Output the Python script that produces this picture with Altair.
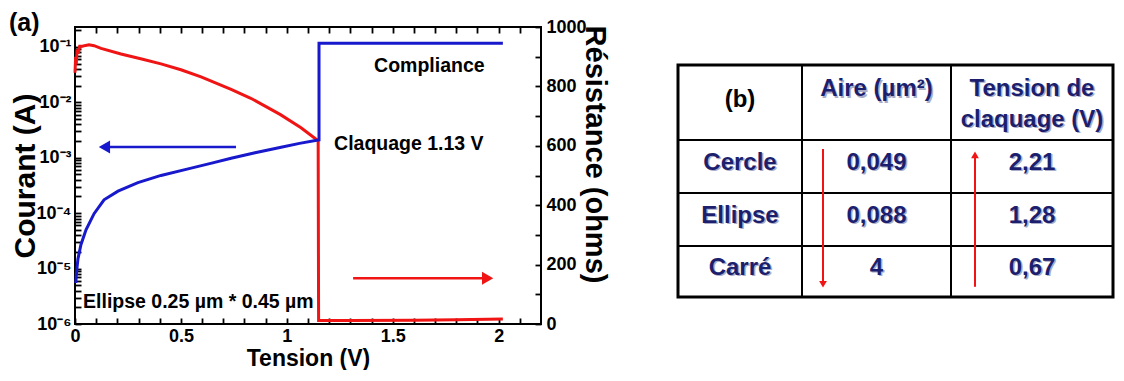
import altair as alt
import pandas as pd

# ---------------- data ----------------
# red curve: resistance (ohms, right axis) vs tension (V)
red_v = [0.000, 0.003, 0.006, 0.010, 0.015, 0.022, 0.035, 0.050, 0.066, 0.090, 0.123,
         0.217, 0.310, 0.406, 0.500, 0.595, 0.737, 0.830, 0.970, 1.067, 1.148,
         1.150, 1.300, 1.600, 1.800, 1.950, 2.020]
red_r = [846, 900, 875, 925, 910, 935, 935, 938, 940, 937, 928,
         909, 893, 876, 856, 832, 790, 760, 705, 661, 617,
         12, 12, 13, 14, 16, 17]

# blue curve: current (A, left log axis) vs tension (V)
blue_v = [0.004, 0.006, 0.009, 0.014, 0.028, 0.052, 0.090, 0.137, 0.203, 0.297,
          0.406, 0.534, 0.650, 0.737, 0.850, 0.973, 1.060, 1.148, 1.152, 1.152, 2.020]
blue_i = [5.5e-6, 7.5e-6, 1.0e-5, 1.5e-5, 2.7e-5, 5.0e-5, 9.8e-5, 1.74e-4, 2.5e-4, 3.55e-4,
          4.8e-4, 6.3e-4, 8.1e-4, 9.8e-4, 1.23e-3, 1.55e-3, 1.82e-3, 2.09e-3, 2.10e-3, 0.117, 0.117]

# arrows
blue_arrow_v = [0.139, 0.76]
blue_arrow_i = 1.57e-3
red_arrow_v = [1.313, 1.948]
red_arrow_r = 154

# annotations
notes_text = ["Compliance", "Claquage 1.13 V", "Ellipse 0.25 µm * 0.45 µm"]
notes_v = [1.412, 1.223, 0.038]
notes_r = [869, 607, 74]
panel_a = "(a)"
panel_a_v = -0.3116
panel_a_r = 1013

# axis ticks
x_major = [0, 0.5, 1, 1.5, 2]
x_minor = [0.1, 0.2, 0.3, 0.4, 0.6, 0.7, 0.8, 0.9, 1.1, 1.2, 1.3, 1.4, 1.6, 1.7, 1.8, 1.9, 2.1]
i_major = [1e-6, 1e-5, 1e-4, 1e-3, 1e-2, 1e-1]
i_minor = [m * d for d in [1e-6, 1e-5, 1e-4, 1e-3, 1e-2, 1e-1] for m in range(2, 10) if m * d <= 0.229]
r_major = [0, 200, 400, 600, 800, 1000]
r_minor = [100, 300, 500, 700, 900]

# table (b)
table_header = ["(b)", "Aire (µm²)", "Tension de\nclaquage (V)"]
table_rows = ["Cercle", "Ellipse", "Carré"]
table_aire = ["0,049", "0,088", "4"]
table_tension = ["2,21", "1,28", "0,67"]

# ---------------- style ----------------
FONT = "Liberation Sans"
RED = "#f01414"
BLUE = "#1818cc"
NAVY = "#1c1f6e"
SHADOW = "#a9adc9"
W, H = 466, 297
TICK = 6  # inward tick length (px)
X_DOM = [0, 2.2]
I_DOM = [1e-6, 0.229]
R_DOM = [0, 1000]

XS = alt.Scale(domain=X_DOM, nice=False, zero=False)
IS = alt.Scale(type="log", domain=I_DOM, nice=False)
RS = alt.Scale(domain=R_DOM, nice=False, zero=False)
TX = alt.Scale(domain=[0, 1, 2, 3], range=[603, 727, 876, 1038], nice=False, zero=False)
TY = alt.Scale(domain=[0, 1, 2, 3, 4], range=[38, 113, 166, 219, 270], nice=False, zero=False)

x_is_major = f"indexof({x_major}, datum.value) >= 0"
i_is_major = f"indexof({i_major}, datum.value) >= 0"
r_is_major = f"indexof({r_major}, datum.value) >= 0"

# ticks point inward (negative size given through an expression); labels keep their place
common = dict(ticks=True, tickSize={"expr": f"-{TICK}"}, tickColor="black", tickWidth=1.8,
              domain=False, grid=False, labelFont=FONT, labelFontWeight="bold",
              labelFontSize=18, labelColor="black", labelFlush=False, labelOverlap=False,
              titleFont=FONT, titleFontWeight="bold", titleColor="black")

ax_bottom = alt.Axis(orient="bottom", values=x_major + x_minor,
                     labelExpr=f"{x_is_major} ? format(datum.value, '~g') : ''",
                     labelPadding=3 + TICK, title="Tension (V)", titleFontSize=23,
                     titlePadding=2, **common)
ax_top = alt.Axis(orient="top", values=x_major[1:] + x_minor, ticks=True,
                  tickSize={"expr": f"-{TICK}"}, tickColor="black", tickWidth=1.8,
                  labels=False, domain=False, grid=False, title="", minExtent=0)
ax_left = alt.Axis(
    orient="left", values=i_major + i_minor,
    labelExpr=f"{i_is_major} ? ['10⁻⁶','10⁻⁵','10⁻⁴','10⁻³','10⁻²','10⁻¹'][round(log(datum.value)/LN10)+6] : ''",
    labelPadding=4 + TICK, title="Courant (A)", titleFontSize=30, titlePadding=-4, **common)
ax_right = alt.Axis(orient="right", values=r_major + r_minor,
                    labelExpr=f"{r_is_major} ? format(datum.value, 'd') : ''",
                    labelPadding=5 + TICK, title="Résistance (ohms)", titleFontSize=29,
                    titlePadding=-7, titleY=127, **common)

# ---------------- plot (a) layers ----------------
red_df = pd.DataFrame({"v": red_v, "r": red_r, "k": range(len(red_v))})
blue_df = pd.DataFrame({"v": blue_v, "i": blue_i, "k": range(len(blue_v))})

red_line = alt.Chart(red_df).mark_line(color=RED, strokeWidth=3).encode(
    x=alt.X("v:Q", scale=XS, axis=ax_bottom),
    y=alt.Y("r:Q", scale=RS, axis=ax_right),
    order=alt.Order("k:Q"),
)
blue_line = alt.Chart(blue_df).mark_line(color=BLUE, strokeWidth=3).encode(
    x=alt.X("v:Q", scale=XS, axis=ax_top),
    y=alt.Y("i:Q", scale=IS, axis=ax_left),
    order=alt.Order("k:Q"),
)

ba_df = pd.DataFrame({"v0": [blue_arrow_v[0]], "v1": [blue_arrow_v[1]], "i": [blue_arrow_i]})
blue_arrow = alt.Chart(ba_df).mark_rule(color=BLUE, strokeWidth=2.5).encode(
    x=alt.X("v0:Q", scale=XS, axis=None), x2="v1:Q",
    y=alt.Y("i:Q", scale=IS, axis=None),
)
blue_head = alt.Chart(ba_df).mark_point(shape="triangle-left", filled=True, size=170,
                                        color=BLUE, opacity=1).encode(
    x=alt.X("v0:Q", scale=XS, axis=None),
    y=alt.Y("i:Q", scale=IS, axis=None),
)

ra_df = pd.DataFrame({"v0": [red_arrow_v[0]], "v1": [red_arrow_v[1]], "r": [red_arrow_r]})
red_arrow = alt.Chart(ra_df).mark_rule(color=RED, strokeWidth=2.5).encode(
    x=alt.X("v0:Q", scale=XS, axis=None), x2="v1:Q",
    y=alt.Y("r:Q", scale=RS, axis=None),
)
red_head = alt.Chart(ra_df).mark_point(shape="triangle-right", filled=True, size=170,
                                       color=RED, opacity=1).encode(
    x=alt.X("v1:Q", scale=XS, axis=None),
    y=alt.Y("r:Q", scale=RS, axis=None),
)

notes_df = pd.DataFrame({"v": notes_v, "r": notes_r, "t": notes_text})
notes = alt.Chart(notes_df).mark_text(align="left", baseline="middle", font=FONT,
                                      fontWeight="bold", fontSize=19.5, color="black").encode(
    x=alt.X("v:Q", scale=XS, axis=None),
    y=alt.Y("r:Q", scale=RS, axis=None),
    text="t:N",
)
a_df = pd.DataFrame({"v": [panel_a_v], "r": [panel_a_r], "t": [panel_a]})
a_label = alt.Chart(a_df).mark_text(align="left", baseline="middle", font=FONT,
                                    fontWeight="bold", fontSize=25, color="black").encode(
    x=alt.X("v:Q", scale=XS, axis=None),
    y=alt.Y("r:Q", scale=RS, axis=None),
    text="t:N",
)

# ---------------- table (b) layers ----------------
border_df = pd.DataFrame({"x0": [0], "x1": [3], "y0": [0], "y1": [4]})
border = alt.Chart(border_df).mark_rect(fillOpacity=0, stroke="black", strokeWidth=3).encode(
    x=alt.X("x0:Q", scale=TX, axis=None), x2="x1:Q",
    y=alt.Y("y0:Q", scale=TY, axis=None), y2="y1:Q",
)
grid_df = pd.DataFrame({
    "x0": [1, 2, 0, 0, 0], "x1": [1, 2, 3, 3, 3],
    "y0": [0, 0, 1, 2, 3], "y1": [4, 4, 1, 2, 3],
})
grid = alt.Chart(grid_df).mark_rule(color="black", strokeWidth=2).encode(
    x=alt.X("x0:Q", scale=TX, axis=None), x2="x1:Q",
    y=alt.Y("y0:Q", scale=TY, axis=None), y2="y1:Q",
)

cells = []
for r, (a, b, c) in enumerate(zip(table_rows, table_aire, table_tension), start=1):
    for col, t in enumerate([a, b, c]):
        cells.append({"cx": col + 0.5, "cy": r + 0.5, "t": t})
cells_df = pd.DataFrame(cells)
hdr_df = pd.DataFrame({"cx": [0.5, 1.5, 2.5], "cy": [0.5, 0.5, 0.5], "t": table_header})


def table_text(df, color, dy, dx=0):
    return alt.Chart(df).mark_text(
        align="center", baseline="middle", font=FONT, fontWeight="bold", fontSize=24,
        color=color, dy=dy, dx=dx, lineBreak="\n", lineHeight=31,
    ).encode(
        x=alt.X("cx:Q", scale=TX, axis=None),
        y=alt.Y("cy:Q", scale=TY, axis=None),
        text="t:N",
    )


b_df = hdr_df.iloc[[0]]
aire_df = hdr_df.iloc[[1]]
tens_df = hdr_df.iloc[[2]]

txt_layers = [
    table_text(cells_df, SHADOW, -2.5, 1.5),
    table_text(cells_df, NAVY, -4),
    table_text(aire_df, SHADOW, -12, 1.5),
    table_text(aire_df, NAVY, -13.5),
    table_text(tens_df, SHADOW, -12.5, 1.5),
    table_text(tens_df, NAVY, -14),
    table_text(b_df, "black", -2.5),
]

tarrow_df = pd.DataFrame({"x": [1.141, 2.148], "y0": [1.17, 3.80], "y1": [3.75, 1.28],
                          "s": ["triangle-down", "triangle-up"]})
t_rules = alt.Chart(tarrow_df).mark_rule(color=RED, strokeWidth=2).encode(
    x=alt.X("x:Q", scale=TX, axis=None),
    y=alt.Y("y0:Q", scale=TY, axis=None), y2="y1:Q",
)
t_heads = alt.Chart(tarrow_df).mark_point(filled=True, size=60, color=RED, opacity=1).encode(
    x=alt.X("x:Q", scale=TX, axis=None),
    y=alt.Y("y1:Q", scale=TY, axis=None),
    shape=alt.Shape("s:N", scale=None),
)

chart = alt.layer(
    red_line, blue_line, blue_arrow, blue_head, red_arrow, red_head, notes,
    a_label, border, grid, *txt_layers, t_rules, t_heads,
).resolve_scale(
    x="independent", y="independent"
).resolve_axis(
    x="independent", y="independent"
).properties(
    width=W, height=H,
    padding={"left": 0, "top": 3, "right": 0, "bottom": 0},
    background="white",
).configure_view(
    stroke="black", strokeWidth=2
)

chart.save("out.html", embed_options={"renderer": "svg", "actions": False})
